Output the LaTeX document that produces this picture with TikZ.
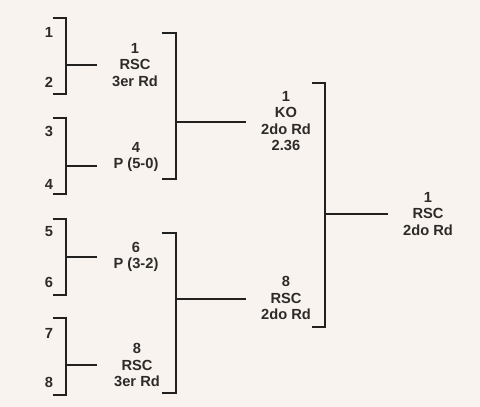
\documentclass[tikz,border=0pt]{standalone}
\usepackage{fontspec}
\setmainfont{Liberation Sans}
\usetikzlibrary{positioning}
\definecolor{bgpaper}{RGB}{248,243,238}
\definecolor{inkline}{RGB}{35,33,32}
\definecolor{inktext}{RGB}{45,43,42}

\begin{document}
\begin{tikzpicture}[x=0.75pt, y=-0.75pt, font=\fontsize{11}{12.4}\selectfont\bfseries,
  seed/.style={text=inktext, inner sep=0pt},
  result/.style={text=inktext, align=center, inner sep=0pt},
  bracket/.style={draw=inkline, line width=1.5pt}]
  \fill[bgpaper] (0,0) rectangle (480,407);
  \useasboundingbox (0,0) rectangle (480,407);
  % seeds
  \foreach \n/\y in {1/32,2/82,3/131,4/184,5/232,6/282,7/333,8/382}
    \node[seed] (s\n) at (49,\y) {\n};
  % first round results
  \node[result] (q1) at (135,65) {1\\RSC\\3er Rd};
  \node[result] (q2) at (136,157) {4\\P (5-0)};
  \node[result] (q3) at (136,257) {6\\P (3-2)};
  \node[result] (q4) at (137,365) {8\\RSC\\3er Rd};
  % semifinal results
  \node[result] (h1) at (286,121) {1\\KO\\2do Rd\\2.36};
  \node[result] (h2) at (286,298) {8\\RSC\\2do Rd};
  % final
  \node[result] (f1) at (428,214) {1\\RSC\\2do Rd};
  % first round brackets
  \foreach \k/\t/\b/\m in {1/18/94/65,2/118/194/166,3/219/295/257,4/318/395/365} {
    \draw[bracket] (53,\t) -| (66,\b) -- (53,\b);
    \coordinate (j\k) at (66,\m);
    \coordinate (e\k) at (97,\m);
    \draw[bracket] (j\k) -- (e\k);
  }
  % second round brackets
  \foreach \k/\t/\b/\m in {5/33/179/122,6/233/393/299} {
    \draw[bracket] (162,\t) -| (176,\b) -- (162,\b);
    \coordinate (j\k) at (176,\m);
    \coordinate (e\k) at (246,\m);
    \draw[bracket] (j\k) -- (e\k);
  }
  % final bracket
  \draw[bracket] (312,83) -| (325,327) -- (312,327);
  \coordinate (j7) at (325,214);
  \coordinate (e7) at (388,214);
  \draw[bracket] (j7) -- (e7);
\end{tikzpicture}
\end{document}
